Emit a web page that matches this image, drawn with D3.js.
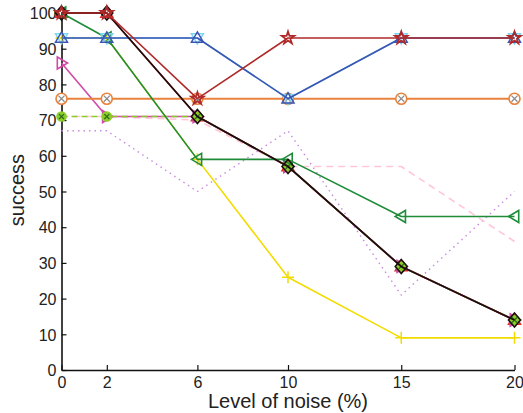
<!DOCTYPE html>
<html>
<head>
<meta charset="utf-8">
<script src="https://cdn.jsdelivr.net/npm/d3@7"></script>
<style>
  body { margin: 0; background: #fff; }
  svg { display: block; }
  text { font-family: "Liberation Sans", Arial, Helvetica, sans-serif; fill: #222; }
</style>
</head>
<body>
<svg id="chart" width="523" height="413"></svg>
<script>
// Noise levels (%) on the x axis
const noiseLevels = [0, 2, 6, 10, 15, 20];
const yTicks = [0, 10, 20, 30, 40, 50, 60, 70, 80, 90, 100];

// Success rate of each method at every noise level
const purpleDotted = [67, 67, 50, 67, 21, 50];
const pinkDashed   = [71, 71, 70, 57, 57, 36];
const redTri       = [100, 100, 71, 57, 29, 14];
const magentaTri   = [86, 71, 71, 57, 29, 14];
const limeDashed   = [71, 71, 71, 57, 29, 14];
const yellowPlus   = [93, 93, 59, 26, 9, 9];
const orangeCirc   = [76, 76, 76, 76, 76, 76];
const greenTri     = [100, 93, 59, 59, 43, 43];
const cyanTri      = [93, 93, 93, 76, 93, 93];
const blueTri      = [93, 93, 93, 76, 93, 93];
const blackDiamond = [100, 100, 71, 57, 29, 14];
const darkRedStar  = [100, 100, 76, 93, 93, 93];

const series = [
  { values: purpleDotted, color: "#c88ae0", dash: "1.5,4", marker: null, width: 1.4 },
  { values: pinkDashed,   color: "#ffc6d6", dash: "7,5",   marker: null, width: 1.6 },
  { values: redTri,       color: "#e02828", dash: null,    marker: "triangleUp", width: 1.5 },
  { values: magentaTri,   color: "#d04aa8", dash: null,    marker: "triangleRight", width: 1.6 },
  { values: limeDashed,   color: "#8ccc28", dash: "6,4",   marker: "circleX", width: 1.6, r: 4.5 },
  { values: yellowPlus,   color: "#f2dc00", dash: null,    marker: "plus", width: 1.6 },
  { values: orangeCirc,   color: "#e8823c", dash: null,    marker: "circleX", width: 2, xColor: "#888" },
  { values: greenTri,     color: "#1f8c3a", dash: null,    marker: "triangleLeft", width: 1.6 },
  { values: cyanTri,      color: "#7fd6ee", dash: null,    marker: "triangleDown", width: 1.5 },
  { values: blueTri,      color: "#3a55b4", dash: null,    marker: "triangleUp", width: 1.6 },
  { values: blackDiamond, color: "#1c0d0d", dash: null,    marker: "diamond", width: 1.8 },
  { values: darkRedStar,  color: "#b02a2a", dash: null,    marker: "star", width: 1.6 }
];

const svg = d3.select("#chart");
const x = d3.scaleLinear().domain([0, 20]).range([61.5, 514.5]);
const y = d3.scaleLinear().domain([0, 100]).range([370, 13]);

// Axes: ticks point inward
const xAxis = d3.axisBottom(x).tickValues(noiseLevels).tickSize(-5).tickPadding(4).tickSizeOuter(0);
const yAxis = d3.axisLeft(y).tickValues(yTicks).tickSize(-5).tickPadding(5).tickSizeOuter(0);

const gx = svg.append("g").attr("transform", "translate(0,370)").call(xAxis);
const gy = svg.append("g").attr("transform", "translate(61.5,0)").call(yAxis);
[gx, gy].forEach(g => {
  g.selectAll("path.domain").attr("stroke", "#111").attr("stroke-width", 1.6);
  g.selectAll(".tick line").attr("stroke", "#111").attr("stroke-width", 1.2);
  g.selectAll(".tick text").attr("font-size", 16).attr("fill", "#222")
    .style("font-family", "'Liberation Sans', Arial, sans-serif");
});
gx.selectAll(".tick text").attr("dy", "0.85em");
gy.selectAll(".tick text").attr("dy", "0.36em");

// Axis titles
svg.append("text").attr("x", 288).attr("y", 408).attr("text-anchor", "middle")
  .attr("font-size", 20).text("Level of noise (%)");
svg.append("text").attr("transform", "translate(24,190) rotate(-90)")
  .attr("text-anchor", "middle").attr("font-size", 20).text("success");

const line = d3.line().x((d, i) => x(noiseLevels[i])).y(d => y(d));

function drawMarker(g, kind, cx, cy, s) {
  const r = 6;
  if (kind === "triangleUp") {
    g.append("path").attr("d", `M${cx},${cy - r} L${cx + r},${cy + r * 0.7} L${cx - r},${cy + r * 0.7}Z`)
      .attr("fill", "none").attr("stroke", s.color).attr("stroke-width", 1.5);
  } else if (kind === "triangleDown") {
    g.append("path").attr("d", `M${cx},${cy + r} L${cx + r},${cy - r * 0.7} L${cx - r},${cy - r * 0.7}Z`)
      .attr("fill", "none").attr("stroke", s.color).attr("stroke-width", 1.5);
  } else if (kind === "triangleLeft") {
    g.append("path").attr("d", `M${cx - r},${cy} L${cx + r * 0.7},${cy - r} L${cx + r * 0.7},${cy + r}Z`)
      .attr("fill", "none").attr("stroke", s.color).attr("stroke-width", 1.6);
  } else if (kind === "triangleRight") {
    g.append("path").attr("d", `M${cx + r},${cy} L${cx - r * 0.7},${cy - r} L${cx - r * 0.7},${cy + r}Z`)
      .attr("fill", "none").attr("stroke", s.color).attr("stroke-width", 1.6);
  } else if (kind === "plus") {
    g.append("path").attr("d", `M${cx - r},${cy} H${cx + r} M${cx},${cy - r} V${cy + r}`)
      .attr("stroke", s.color).attr("stroke-width", 1.5);
  } else if (kind === "circleX") {
    const xc = s.xColor || "#2a6a1a";
    const cr = s.r || 5.5;
    g.append("circle").attr("cx", cx).attr("cy", cy).attr("r", cr)
      .attr("fill", s.xColor ? "#fff" : s.color).attr("stroke", s.color).attr("stroke-width", 1.6);
    const k = cr * 0.55;
    g.append("path").attr("d", `M${cx - k},${cy - k} L${cx + k},${cy + k} M${cx - k},${cy + k} L${cx + k},${cy - k}`)
      .attr("stroke", xc).attr("stroke-width", 1.2);
  } else if (kind === "diamond") {
    g.append("path").attr("d", `M${cx},${cy - 7} L${cx + 6},${cy} L${cx},${cy + 7} L${cx - 6},${cy}Z`)
      .attr("fill", "none").attr("stroke", s.color).attr("stroke-width", 1.6);
  } else if (kind === "star") {
    const star = d3.symbol().type(d3.symbolStar).size(48)();
    g.append("path").attr("d", star).attr("transform", `translate(${cx},${cy})`)
      .attr("fill", "none").attr("stroke", s.color).attr("stroke-width", 1.8);
  }
}

series.forEach(s => {
  const g = svg.append("g");
  g.append("path").datum(s.values).attr("d", line)
    .attr("fill", "none").attr("stroke", s.color).attr("stroke-width", s.width)
    .attr("stroke-dasharray", s.dash).attr("stroke-linejoin", "round");
  if (s.marker) {
    s.values.forEach((v, i) => drawMarker(g, s.marker, x(noiseLevels[i]), y(v), s));
  }
});
</script>
</body>
</html>
